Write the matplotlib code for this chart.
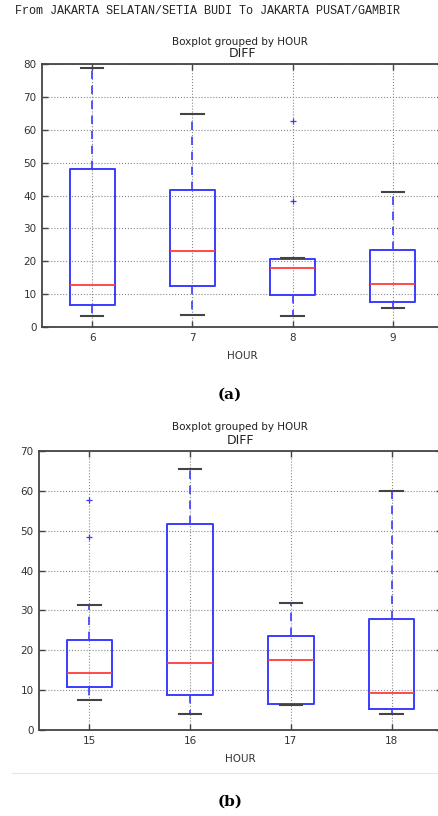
import matplotlib.pyplot as plt

# ---- data: DIFF per HOUR, five-number summaries read as box stats ----
hours_a = ['6', '7', '8', '9']
whislo_a = [3.4, 3.7, 3.4, 5.8]
q1_a = [6.6, 12.5, 9.8, 7.5]
med_a = [12.8, 23.0, 17.8, 13.0]
q3_a = [48.0, 41.7, 20.7, 23.5]
whishi_a = [78.8, 64.8, 21.0, 41.2]
fliers_a = [[], [], [62.7, 38.2], []]

hours_b = ['15', '16', '17', '18']
whislo_b = [7.6, 3.9, 6.2, 3.9]
q1_b = [10.9, 8.8, 6.4, 5.2]
med_b = [14.3, 16.9, 17.6, 9.2]
q3_b = [22.6, 51.6, 23.6, 27.8]
whishi_b = [31.4, 65.4, 31.9, 60.0]
fliers_b = [[57.8, 48.4], [], [], []]

route = "From JAKARTA SELATAN/SETIA BUDI To JAKARTA PUSAT/GAMBIR"

W, H = 439, 816
fig = plt.figure(figsize=(W / 100, H / 100), dpi=100)


def px_axes(left, top, right, bottom):
    return fig.add_axes([left / W, 1 - bottom / H, (right - left) / W, (bottom - top) / H])


def draw_panel(ax, labels, lo, q1, med, q3, hi, fl, ymax, ystep):
    stats = []
    for i in range(len(labels)):
        stats.append(dict(label=labels[i], whislo=lo[i], q1=q1[i], med=med[i],
                          q3=q3[i], whishi=hi[i], fliers=fl[i]))
    ax.bxp(stats, widths=0.45, showfliers=True,
           boxprops=dict(color='#3b3bff', lw=1.4),
           medianprops=dict(color='#ff3b3b', lw=1.3),
           whiskerprops=dict(color='#3b3bff', lw=1.2, ls=(0, (5, 4))),
           capprops=dict(color='#444444', lw=1.5),
           flierprops=dict(marker='+', markeredgecolor='#3b3bff', markersize=5,
                           markeredgewidth=0.9, linestyle='none'))
    ax.set_xlim(0.5, len(labels) + 0.5)
    ax.set_ylim(0, ymax)
    ax.set_yticks(range(0, ymax + 1, ystep))
    ax.grid(True, color='#888888', linestyle=':', lw=0.8)
    ax.set_axisbelow(True)
    ax.tick_params(direction='in', top=True, right=True, length=4, width=1,
                   color='#444444', labelsize=7.5, labelcolor='#333333', pad=4)
    for s in ax.spines.values():
        s.set_color('#444444')
        s.set_linewidth(1.3)
    ax.set_xlabel('HOUR', fontsize=7.5, color='#333333', labelpad=6)
    ax.set_title('DIFF', fontsize=9, color='#222222', pad=5)


fig.text(15 / W, 1 - 11 / H, route, family='Liberation Mono', fontsize=8.5,
         ha='left', va='center', color='#222222')

ax_a = px_axes(42, 64, 443, 327)
draw_panel(ax_a, hours_a, whislo_a, q1_a, med_a, q3_a, whishi_a, fliers_a, 80, 10)
fig.text(240 / W, 1 - 42 / H, 'Boxplot grouped by HOUR', fontsize=7.5,
         ha='center', va='center', color='#222222')
fig.text(230 / W, 1 - 395 / H, '(a)', family='DejaVu Serif', fontweight='bold',
         fontsize=11, ha='center', va='center')

ax_b = px_axes(39, 451, 442, 730)
draw_panel(ax_b, hours_b, whislo_b, q1_b, med_b, q3_b, whishi_b, fliers_b, 70, 10)
fig.text(240 / W, 1 - 427 / H, 'Boxplot grouped by HOUR', fontsize=7.5,
         ha='center', va='center', color='#222222')
fig.text(230 / W, 1 - 802 / H, '(b)', family='DejaVu Serif', fontweight='bold',
         fontsize=11, ha='center', va='center')

# faint separator below the lower panel
fig.add_artist(plt.Line2D([12 / W, 1], [1 - 773 / H] * 2, color='#e6e6e6', lw=0.8))

fig.savefig('out.png', dpi=100)
